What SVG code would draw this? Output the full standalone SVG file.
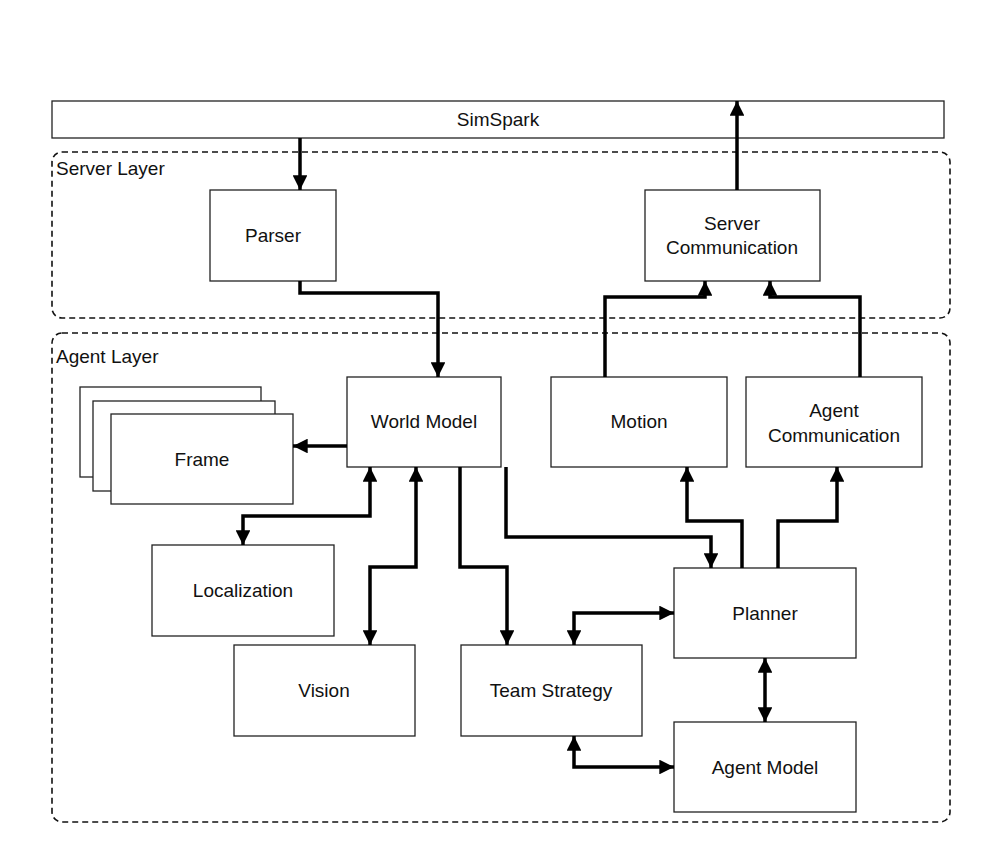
<svg xmlns="http://www.w3.org/2000/svg" width="996" height="862" viewBox="0 0 996 862">
<style>
.b{fill:#fff;stroke:#222;stroke-width:1.3}
.d{fill:none;stroke:#111;stroke-width:1.6;stroke-dasharray:6 4}
text{font-family:"Liberation Sans",Arial,sans-serif;font-size:19px;fill:#111;text-anchor:middle}
.l{text-anchor:start}
.c path{fill:none;stroke:#000;stroke-width:3.5}
</style>
<defs>
<marker id="a" viewBox="0 0 10 10" refX="10" refY="5" markerWidth="4.4" markerHeight="4.2" orient="auto-start-reverse"><path d="M0,0L10,5L0,10z" fill="#000"/></marker>
</defs>
<rect x="0" y="0" width="996" height="862" fill="#fff"/>
<g id="serverLayer"><rect class="d" x="52" y="152" width="898" height="166" rx="10"/><text class="l" x="56" y="175">Server Layer</text></g>
<g id="agentLayer"><rect class="d" x="52" y="333" width="898" height="489" rx="10"/><text class="l" x="56" y="363">Agent Layer</text></g>
<g id="simspark"><rect class="b" x="52" y="101" width="892" height="37"/><text x="498" y="126">SimSpark</text></g>
<g id="parser"><rect class="b" x="210" y="190" width="126" height="91"/><text x="273" y="242">Parser</text></g>
<g id="servercomm"><rect class="b" x="645" y="190" width="175" height="91"/><text x="732" y="230">Server</text><text x="732" y="254">Communication</text></g>
<g id="frame"><rect class="b" x="80" y="387" width="181" height="90"/><rect class="b" x="93" y="401" width="182" height="90"/><rect class="b" x="111" y="414" width="182" height="90"/><text x="202" y="466">Frame</text></g>
<g id="worldmodel"><rect class="b" x="347" y="377" width="154" height="90"/><text x="424" y="428">World Model</text></g>
<g id="motion"><rect class="b" x="551" y="377" width="176" height="90"/><text x="639" y="428">Motion</text></g>
<g id="agentcomm"><rect class="b" x="746" y="377" width="176" height="90"/><text x="834" y="417">Agent</text><text x="834" y="442">Communication</text></g>
<g id="localization"><rect class="b" x="152" y="545" width="182" height="91"/><text x="243" y="597">Localization</text></g>
<g id="vision"><rect class="b" x="234" y="645" width="181" height="91"/><text x="324" y="697">Vision</text></g>
<g id="teamstrategy"><rect class="b" x="461" y="645" width="181" height="91"/><text x="551" y="697">Team Strategy</text></g>
<g id="planner"><rect class="b" x="674" y="568" width="182" height="90"/><text x="765" y="620">Planner</text></g>
<g id="agentmodel"><rect class="b" x="674" y="722" width="182" height="90"/><text x="765" y="774">Agent Model</text></g>
<g class="c" id="connectors">
<path d="M300,138V190" marker-end="url(#a)"/>
<path d="M300,281V293H438V377" marker-end="url(#a)"/>
<path d="M737,190V101" marker-end="url(#a)"/>
<path d="M605,377V297H705V281" marker-end="url(#a)"/>
<path d="M860,377V297H770V281" marker-end="url(#a)"/>
<path d="M347,446H293" marker-end="url(#a)"/>
<path d="M370,467V516H243V545" marker-start="url(#a)" marker-end="url(#a)"/>
<path d="M416,467V567H370V645" marker-start="url(#a)" marker-end="url(#a)"/>
<path d="M460,467V567H507V645" marker-end="url(#a)"/>
<path d="M506,467V537H711V568" marker-end="url(#a)"/>
<path d="M742,568V521H687V467" marker-end="url(#a)"/>
<path d="M778,568V521H837V467" marker-end="url(#a)"/>
<path d="M674,613H574V645" marker-start="url(#a)" marker-end="url(#a)"/>
<path d="M765,658V722" marker-start="url(#a)" marker-end="url(#a)"/>
<path d="M574,736V767H674" marker-start="url(#a)" marker-end="url(#a)"/>
</g>
</svg>
